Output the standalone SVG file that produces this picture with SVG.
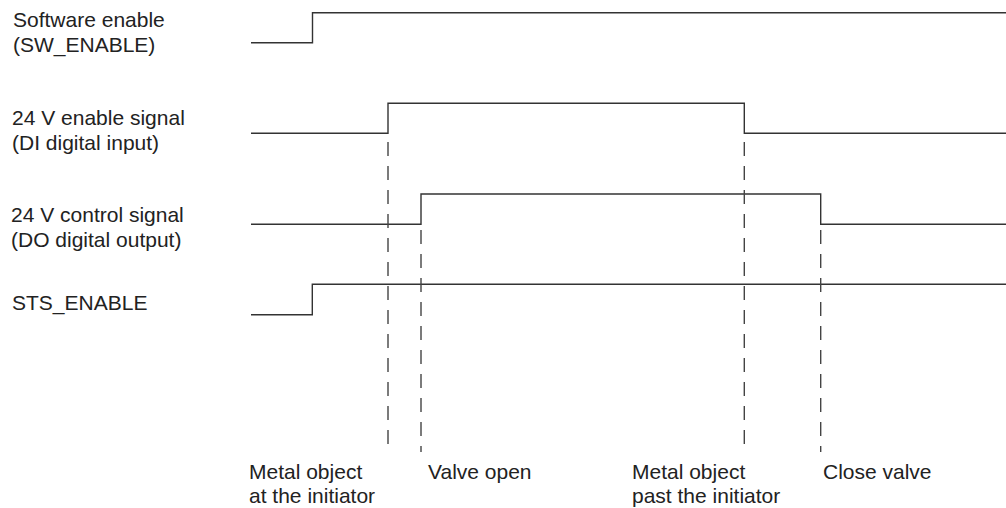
<svg xmlns="http://www.w3.org/2000/svg" width="1006" height="508" viewBox="0 0 1006 508">
<style>
.sig{fill:none;stroke:#333;stroke-width:1.4}
.dash{fill:none;stroke:#444;stroke-width:1.4;stroke-dasharray:14 10}
text{font-family:"Liberation Sans",Arial,sans-serif;font-size:21px;fill:#222}
</style>
<rect width="1006" height="508" fill="#fff"/>
<g id="labels">
<text x="13" y="27">Software enable</text>
<text x="13" y="52">(SW_ENABLE)</text>
<text x="12" y="125">24 V enable signal</text>
<text x="12" y="150">(DI digital input)</text>
<text x="11" y="222">24 V control signal</text>
<text x="11" y="247">(DO digital output)</text>
<text x="12" y="310">STS_ENABLE</text>
</g>
<g id="signals">
<polyline id="sw_enable" class="sig" points="251,42.7 312.5,42.7 312.5,12.7 1006,12.7"/>
<polyline id="di" class="sig" points="251,133.3 388,133.3 388,103.3 744.3,103.3 744.3,133.3 1006,133.3"/>
<polyline id="do" class="sig" points="251,224.3 421,224.3 421,194 820.7,194 820.7,224.3 1006,224.3"/>
<polyline id="sts" class="sig" points="251,314.7 312.3,314.7 312.3,284.3 1006,284.3"/>
</g>
<g id="connectors">
<line class="dash" x1="388" y1="142" x2="388" y2="444"/>
<line class="dash" x1="744.3" y1="142" x2="744.3" y2="444"/>
<line class="dash" x1="421" y1="230" x2="421" y2="452"/>
<line class="dash" x1="820.7" y1="230" x2="820.7" y2="452"/>
</g>
<g id="events">
<text x="249" y="479">Metal object</text>
<text x="249" y="503">at the initiator</text>
<text x="428" y="479">Valve open</text>
<text x="632" y="479">Metal object</text>
<text x="632" y="503">past the initiator</text>
<text x="823" y="479">Close valve</text>
</g>
</svg>
